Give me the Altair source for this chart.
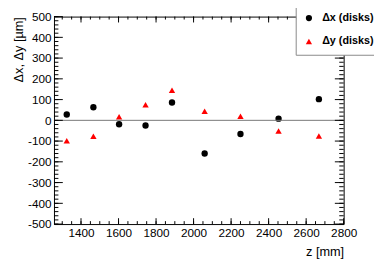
import altair as alt
import pandas as pd

# data
z = [1324, 1466, 1603, 1744, 1885, 2059, 2250, 2453, 2668]
dx = [28, 63, -19, -25, 86, -160, -66, 8, 102]
dy = [-99, -77, 17, 75, 145, 44, 20, -52, -75]
series = ["Δx (disks)", "Δy (disks)"]
x_major = [1400, 1600, 1800, 2000, 2200, 2400, 2600, 2800]
x_minor = list(range(1300, 2801, 50))
y_major = list(range(-500, 501, 100))
y_minor = list(range(-500, 501, 20))

W, H = 296, 212
FONT = "Liberation Sans"
HYPHEN = "datum.value < 0 ? '-' + abs(datum.value) : '' + datum.value"

df = pd.DataFrame({
    "z": z + z,
    "v": dx + dy,
    "s": [series[0]] * len(z) + [series[1]] * len(z),
})

xs = alt.Scale(domain=[1256, 2800], nice=False, zero=False)
ys = alt.Scale(domain=[-500, 500], nice=False, zero=False)

x_axis = alt.Axis(values=x_major, tickCount=len(x_major), labelExpr=HYPHEN, ticks=False,
                  domain=False, grid=False, labelOverlap=False, labelFlush=False,
                  labelFont=FONT, labelFontSize=12, labelColor="black", labelPadding=4,
                  title="z [mm]", titleFont=FONT, titleFontSize=13, titleFontWeight="normal",
                  titleAnchor="end", titleColor="black", titlePadding=7)
y_axis = alt.Axis(values=y_major, tickCount=len(y_major), labelExpr=HYPHEN, ticks=False,
                  domain=False, grid=False, labelOverlap=False, labelFlush=False,
                  labelFont=FONT, labelFontSize=12, labelColor="black", labelPadding=3,
                  title="Δx, Δy [µm]", titleFont=FONT, titleFontSize=13, titleFontWeight="normal",
                  titleAnchor="end", titleColor="black", titlePadding=2)

points = alt.Chart(df).mark_point(filled=True, opacity=1, size=42).encode(
    x=alt.X("z:Q", scale=xs, axis=x_axis),
    y=alt.Y("v:Q", scale=ys, axis=y_axis),
    color=alt.Color("s:N", scale=alt.Scale(domain=series, range=["black", "#ff0000"]),
                    legend=alt.Legend(title=None, orient="none", legendX=247, legendY=-12,
                                      fillColor="white", strokeColor="#888888", padding=8,
                                      rowPadding=12, labelFont=FONT, labelFontSize=11,
                                      labelFontWeight="bold", labelColor="black",
                                      symbolSize=40, labelOffset=8, symbolStrokeWidth=0)),
    shape=alt.Shape("s:N", scale=alt.Scale(domain=series, range=["circle", "triangle-up"])),
)

zero = alt.Chart(pd.DataFrame({"v": [0]})).mark_rule(color="#777777", strokeWidth=1).encode(
    y=alt.Y("v:Q", scale=ys))

def xticks(vals, length):
    d = pd.DataFrame({"z": vals})
    bottom = alt.Chart(d).mark_rule(color="black", strokeWidth=1).encode(
        x=alt.X("z:Q", scale=xs), y=alt.value(H), y2=alt.value(H - length))
    top = alt.Chart(d).mark_rule(color="black", strokeWidth=1).encode(
        x=alt.X("z:Q", scale=xs), y=alt.value(0), y2=alt.value(length))
    return [bottom, top]

def yticks(vals, length):
    d = pd.DataFrame({"v": vals})
    left = alt.Chart(d).mark_rule(color="black", strokeWidth=1).encode(
        y=alt.Y("v:Q", scale=ys), x=alt.value(0), x2=alt.value(length))
    right = alt.Chart(d).mark_rule(color="black", strokeWidth=1).encode(
        y=alt.Y("v:Q", scale=ys), x=alt.value(W), x2=alt.value(W - length))
    return [left, right]

layers = [points, zero] + xticks(x_major, 6) + xticks(x_minor, 3) + yticks(y_major, 9) + yticks(y_minor, 4.5)

chart = alt.layer(*layers).properties(
    width=W, height=H,
    autosize=alt.AutoSizeParams(type="none"),
    padding={"left": 47, "top": 6, "right": 31, "bottom": 37},
    background="white",
).configure_view(stroke="black", strokeWidth=1).configure_axis(
    labelOverlap=False, labelFlush=False)

chart.save("out.html", embed_options={"renderer": "svg", "actions": False})
